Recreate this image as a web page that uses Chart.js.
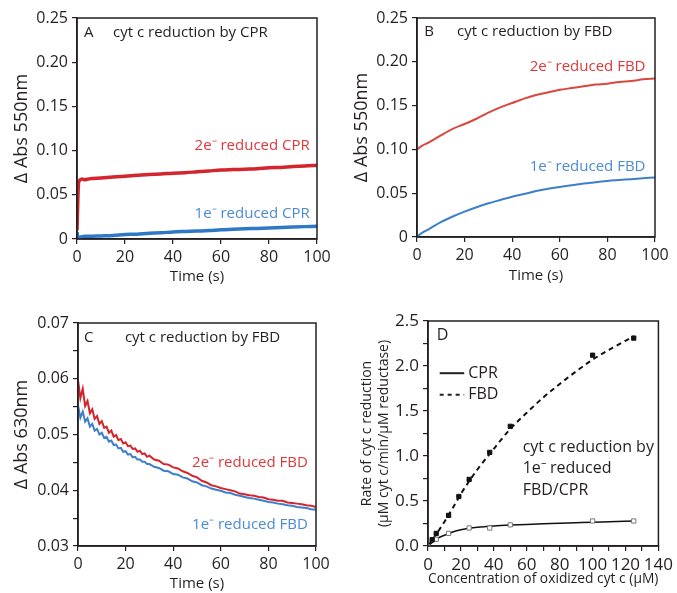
<!DOCTYPE html>
<html>
<head>
<meta charset="utf-8">
<script src="https://cdn.jsdelivr.net/npm/chart.js@4.4.0/dist/chart.umd.min.js"></script>
<style>
  body { margin: 0; background: #fff; }
  canvas { position: absolute; }
</style>
</head>
<body>
<canvas id="panel-a" width="338" height="290" style="left:0;top:0"></canvas>
<canvas id="panel-b" width="339" height="290" style="left:338px;top:0"></canvas>
<canvas id="panel-c" width="338" height="303" style="left:0;top:290px"></canvas>
<canvas id="panel-d" width="339" height="303" style="left:338px;top:290px"></canvas>
<script>
/* global Chart */

// A: cyt c reduction by CPR, delta Abs 550 nm
const timeA = [0, 0.3, 0.6, 1, 2, 3, 5, 10, 15, 20, 25, 30, 35, 40, 45, 50, 55, 60, 65, 70, 75, 80, 85, 90, 95, 100]
const cpr2eA = [0.010, 0.040, 0.062, 0.066, 0.068, 0.067, 0.068, 0.069, 0.070, 0.071, 0.072, 0.073, 0.0735, 0.0745, 0.075, 0.076, 0.077, 0.078, 0.0785, 0.079, 0.0795, 0.0805, 0.081, 0.082, 0.0825, 0.0835]
const cpr1eA = [0.008, 0.003, 0.002, 0.002, 0.0025, 0.003, 0.003, 0.0035, 0.004, 0.005, 0.0055, 0.0065, 0.007, 0.008, 0.0085, 0.009, 0.0095, 0.0105, 0.011, 0.0115, 0.012, 0.0125, 0.013, 0.0135, 0.014, 0.0145]

// B: cyt c reduction by FBD, delta Abs 550 nm
const timeB = [0, 1, 2, 5, 10, 15, 20, 25, 30, 35, 40, 45, 50, 55, 60, 65, 70, 75, 80, 85, 90, 95, 100]
const fbd2eB = [0.100, 0.102, 0.104, 0.108, 0.116, 0.1235, 0.129, 0.135, 0.142, 0.148, 0.153, 0.158, 0.162, 0.165, 0.168, 0.170, 0.172, 0.174, 0.175, 0.177, 0.178, 0.180, 0.181]
const fbd1eB = [0, 0.0026, 0.0045, 0.009, 0.0170, 0.0234, 0.029, 0.034, 0.0385, 0.0423, 0.046, 0.049, 0.0525, 0.055, 0.0572, 0.059, 0.061, 0.0625, 0.064, 0.065, 0.066, 0.067, 0.068]

// C: cyt c reduction by FBD, delta Abs 630 nm
const timeC = [0, 1, 2, 3, 4, 5, 6, 7, 8, 9, 10, 11, 12, 13, 14, 15, 16, 17, 18, 19, 20, 21, 22, 23, 24, 25, 26, 27, 28, 29, 30,
  32, 34, 36, 38, 40, 42, 44, 46, 48, 50, 52, 54, 56, 58, 60, 62, 64, 66, 68, 70, 72, 74, 76, 78, 80, 82, 84, 86, 88, 90, 92, 94, 96, 98, 100]
const fbd2eC = [0.0598, 0.0565, 0.0582, 0.0551, 0.0560, 0.0538, 0.0545, 0.0528, 0.0533, 0.0519, 0.0524, 0.0512, 0.0514, 0.0503, 0.0507, 0.0496, 0.0499, 0.0490, 0.0492, 0.0484, 0.0486, 0.0479, 0.0480, 0.0474, 0.0475, 0.0469, 0.0471, 0.0465, 0.0466, 0.0460, 0.0462,
  0.0455, 0.0453, 0.0447, 0.0446, 0.0441, 0.0439, 0.0434, 0.0431, 0.0426, 0.0423, 0.0417, 0.0414, 0.0409, 0.0407, 0.0404, 0.0402, 0.0400, 0.0398, 0.0394, 0.0393, 0.0391, 0.0390, 0.0388, 0.0387, 0.0384, 0.0383, 0.0381, 0.0381, 0.0378, 0.0377, 0.0376, 0.0375, 0.0373, 0.0372, 0.0370]
const fbd1eC = [0.0552, 0.0530, 0.0541, 0.0523, 0.0529, 0.0514, 0.0519, 0.0507, 0.0510, 0.0500, 0.0503, 0.0494, 0.0496, 0.0487, 0.0489, 0.0481, 0.0482, 0.0475, 0.0476, 0.0469, 0.0470, 0.0464, 0.0465, 0.0459, 0.0460, 0.0455, 0.0455, 0.0451, 0.0451, 0.0447, 0.0447,
  0.0442, 0.0440, 0.0435, 0.0434, 0.0429, 0.0428, 0.0423, 0.0421, 0.0416, 0.0414, 0.0409, 0.0407, 0.0403, 0.0401, 0.0399, 0.0396, 0.0395, 0.0392, 0.0390, 0.0388, 0.0386, 0.0385, 0.0383, 0.0381, 0.0379, 0.0378, 0.0376, 0.0375, 0.0373, 0.0372, 0.0370, 0.0369, 0.0368, 0.0366, 0.0365]

// D: initial rate vs oxidized cyt c (uM), with fitted curves
const concFBD = [2.5, 5, 12.5, 18.75, 25, 37.5, 50, 100, 125]
const rateFBD = [0.07, 0.14, 0.34, 0.55, 0.74, 1.04, 1.33, 2.12, 2.31]
const concCPR = [0, 5, 12.5, 25, 37.5, 50, 100, 125]
const rateCPR = [0, 0.075, 0.14, 0.20, 0.20, 0.235, 0.278, 0.278]
const fitConc = [0, 5, 10, 15, 20, 25, 30, 40, 50, 60, 70, 80, 90, 100, 110, 125]
const fitFBD = [0, 0.13, 0.27, 0.42, 0.58, 0.72, 0.85, 1.08, 1.30, 1.48, 1.65, 1.80, 1.94, 2.07, 2.18, 2.33]
const fitCPR = [0, 0.075, 0.12, 0.155, 0.18, 0.197, 0.208, 0.222, 0.232, 0.24, 0.246, 0.252, 0.258, 0.264, 0.269, 0.277]

const FONT = "'Open Sans', sans-serif"
const INK = '#231f20'
const RED = '#d4242c'
const RED_TEXT = '#e0373a'
const BLUE = '#3d7fca'
const BLUE_TEXT = '#4a8bd3'

Chart.defaults.font.family = FONT
Chart.defaults.color = INK
Chart.defaults.animation = false

const xy = (xs, ys) => xs.map((x, i) => ({ x, y: ys[i] }))

// frame around the plot plus free text and the line key
const panelNotes = {
  id: 'panelNotes',
  afterDraw (chart, args, opts) {
    const { ctx, chartArea: a, scales: { x, y } } = chart
    ctx.save()
    ctx.strokeStyle = INK
    ctx.lineWidth = 1.5
    ctx.strokeRect(a.left, a.top, a.right - a.left, a.bottom - a.top)
    ctx.textBaseline = 'middle'
    ;(opts.notes || []).forEach(n => {
      ctx.font = `${n.size || 15}px ${FONT}`
      ctx.fillStyle = n.color || INK
      ctx.textAlign = n.align || 'left'
      ctx.fillText(n.text, x.getPixelForValue(n.x), y.getPixelForValue(n.y))
    })
    ;(opts.keys || []).forEach(k => {
      const py = y.getPixelForValue(k.y)
      ctx.beginPath()
      ctx.setLineDash(k.dash || [])
      ctx.lineWidth = 2
      ctx.moveTo(x.getPixelForValue(k.x0), py)
      ctx.lineTo(x.getPixelForValue(k.x1), py)
      ctx.stroke()
      ctx.setLineDash([])
      ctx.font = `16px ${FONT}`
      ctx.fillStyle = INK
      ctx.textAlign = 'left'
      ctx.fillText(k.text, x.getPixelForValue(k.x1) + 4, py)
    })
    ctx.restore()
  }
}

function axis (o) {
  return {
    type: 'linear',
    min: o.min,
    max: o.max,
    afterFit: s => { if (o.width) s.width = o.width; if (o.height) s.height = o.height },
    afterBuildTicks: s => { s.ticks = o.ticks.map(v => ({ value: v })) },
    ticks: {
      font: { size: o.tickSize || 16 },
      color: INK,
      padding: 4,
      maxRotation: 0,
      autoSkip: false,
      callback: o.label
    },
    grid: { drawOnChartArea: false, drawTicks: true, tickLength: 5, color: INK, lineWidth: 1.2 },
    border: { display: true, color: INK, width: 1.5 },
    title: { display: true, text: o.title, font: { size: o.titleSize || 16 }, color: INK, padding: o.titlePad }
  }
}

function steps (from, to, step) {
  const out = []
  for (let i = 0; from + i * step <= to + step / 100; i++) out.push(+(from + i * step).toFixed(4))
  return out
}

const timeTicks = steps(0, 100, 20)
const absLabel = v => v === 0 ? '0' : v.toFixed(2)

function trace (data, color, width, smooth) {
  const ds = { data, borderColor: color, borderWidth: width, pointRadius: 0, fill: false }
  if (smooth) ds.cubicInterpolationMode = 'monotone'
  return ds
}

function timePanel (id, datasets, yAxis, pads, notes) {
  return new Chart(document.getElementById(id), {
    type: 'line',
    data: { datasets },
    options: {
      responsive: false,
      layout: { padding: pads },
      plugins: { legend: { display: false }, tooltip: { enabled: false }, panelNotes: { notes } },
      scales: {
        x: axis({ min: 0, max: 100, ticks: timeTicks, label: v => String(v), height: pads.xHeight, title: 'Time (s)', titleSize: 15, titlePad: { top: 0, bottom: pads.xTitle } }),
        y: yAxis
      }
    },
    plugins: [panelNotes]
  })
}

timePanel('panel-a', [
  trace(xy(timeA, cpr2eA), RED, 3.5, true),
  trace(xy(timeA, cpr1eA), '#2f78c8', 3.5, true)
], axis({ min: 0, max: 0.25, ticks: steps(0, 0.25, 0.05), label: absLabel, width: 77, title: '\u0394 Abs 550nm', titleSize: 18, titlePad: { top: 11, bottom: 0 } }),
{ top: 18, right: 21, left: 0, bottom: 0, xHeight: 51, xTitle: 4 }, [
  { text: 'A', x: 2.9, y: 0.233 },
  { text: 'cyt c reduction by CPR', x: 15, y: 0.233 },
  { text: '2e\u207b reduced CPR', x: 97, y: 0.105, align: 'right', color: RED_TEXT },
  { text: '1e\u207b reduced CPR', x: 97, y: 0.029, align: 'right', color: BLUE_TEXT }
])

timePanel('panel-b', [
  trace(xy(timeB, fbd2eB), '#d9473f', 2, true),
  trace(xy(timeB, fbd1eB), BLUE, 2, true)
], axis({ min: 0, max: 0.25, ticks: steps(0, 0.25, 0.05), label: absLabel, width: 79, title: '\u0394 Abs 550nm', titleSize: 18, titlePad: { top: 13, bottom: 0 } }),
{ top: 18, right: 22, left: 0, bottom: 0, xHeight: 53, xTitle: 5 }, [
  { text: 'B', x: 3, y: 0.234 },
  { text: 'cyt c reduction by FBD', x: 16.8, y: 0.234 },
  { text: '2e\u207b reduced FBD', x: 96, y: 0.194, align: 'right', color: RED_TEXT },
  { text: '1e\u207b reduced FBD', x: 96, y: 0.080, align: 'right', color: BLUE_TEXT }
])

timePanel('panel-c', [
  trace(xy(timeC, fbd2eC), RED, 2, false),
  trace(xy(timeC, fbd1eC), BLUE, 2, false)
], axis({ min: 0.03, max: 0.07, ticks: steps(0.03, 0.07, 0.005), label: v => Math.round(v * 1000) % 10 === 0 ? v.toFixed(2) : '', width: 78, title: '\u0394 Abs 630nm', titleSize: 18, titlePad: { top: 11, bottom: 0 } }),
{ top: 33, right: 22, left: 0, bottom: 0, xHeight: 47, xTitle: 0 }, [
  { text: 'C', x: 2.5, y: 0.0673 },
  { text: 'cyt c reduction by FBD', x: 19.7, y: 0.0673 },
  { text: '2e\u207b reduced FBD', x: 96.6, y: 0.0449, align: 'right', color: RED_TEXT },
  { text: '1e\u207b reduced FBD', x: 96.6, y: 0.0338, align: 'right', color: BLUE_TEXT }
])

new Chart(document.getElementById('panel-d'), {
  type: 'line',
  data: {
    datasets: [
      {
        data: xy(concFBD, rateFBD),
        showLine: false,
        pointStyle: 'rect',
        pointRadius: 3,
        backgroundColor: '#111',
        borderColor: '#111',
        borderWidth: 1
      },
      {
        data: xy(concCPR, rateCPR),
        showLine: false,
        pointStyle: c => c.dataIndex === 0 ? 'rectRot' : 'rect',
        pointRadius: 3,
        backgroundColor: '#fff',
        borderColor: '#777',
        borderWidth: 1
      },
      { data: xy(fitConc, fitFBD), borderColor: '#111', borderWidth: 2, borderDash: [5, 4], pointRadius: 0, cubicInterpolationMode: 'monotone' },
      { data: xy(fitConc, fitCPR), borderColor: '#111', borderWidth: 1.5, pointRadius: 0, cubicInterpolationMode: 'monotone' }
    ]
  },
  options: {
    responsive: false,
    layout: { padding: { top: 31, right: 13, left: 0, bottom: 0 } },
    plugins: {
      legend: { display: false },
      tooltip: { enabled: false },
      panelNotes: {
        notes: [
          { text: 'D', x: 5.3, y: 2.34, size: 16 },
          { text: 'cyt c reduction by', x: 57.5, y: 1.09, size: 16 },
          { text: '1e\u207b reduced', x: 57.5, y: 0.86, size: 16 },
          { text: 'FBD/CPR', x: 57.5, y: 0.62, size: 16 }
        ],
        keys: [
          { text: 'CPR', x0: 7.1, x1: 22, y: 1.92 },
          { text: 'FBD', x0: 7.1, x1: 22, y: 1.68, dash: [4, 4] }
        ]
      }
    },
    scales: {
      x: axis({ min: 0, max: 140, ticks: steps(0, 140, 10), label: v => v % 20 === 0 ? String(v) : '', height: 47, tickSize: 17, title: 'Concentration of oxidized cyt c (\u03bcM)', titleSize: 14.5, titlePad: { top: 0, bottom: 5 } }),
      y: axis({ min: 0, max: 2.5, ticks: steps(0, 2.5, 0.25), label: v => Math.round(v * 100) % 50 === 0 ? v.toFixed(1) : '', width: 90, tickSize: 17, title: ['Rate of cyt c reduction', '(\u03bcM cyt c/min/\u03bcM reductase)'], titleSize: 14, titlePad: { top: 21, bottom: 0 } })
    }
  },
  plugins: [panelNotes]
})
</script>
</body>
</html>
